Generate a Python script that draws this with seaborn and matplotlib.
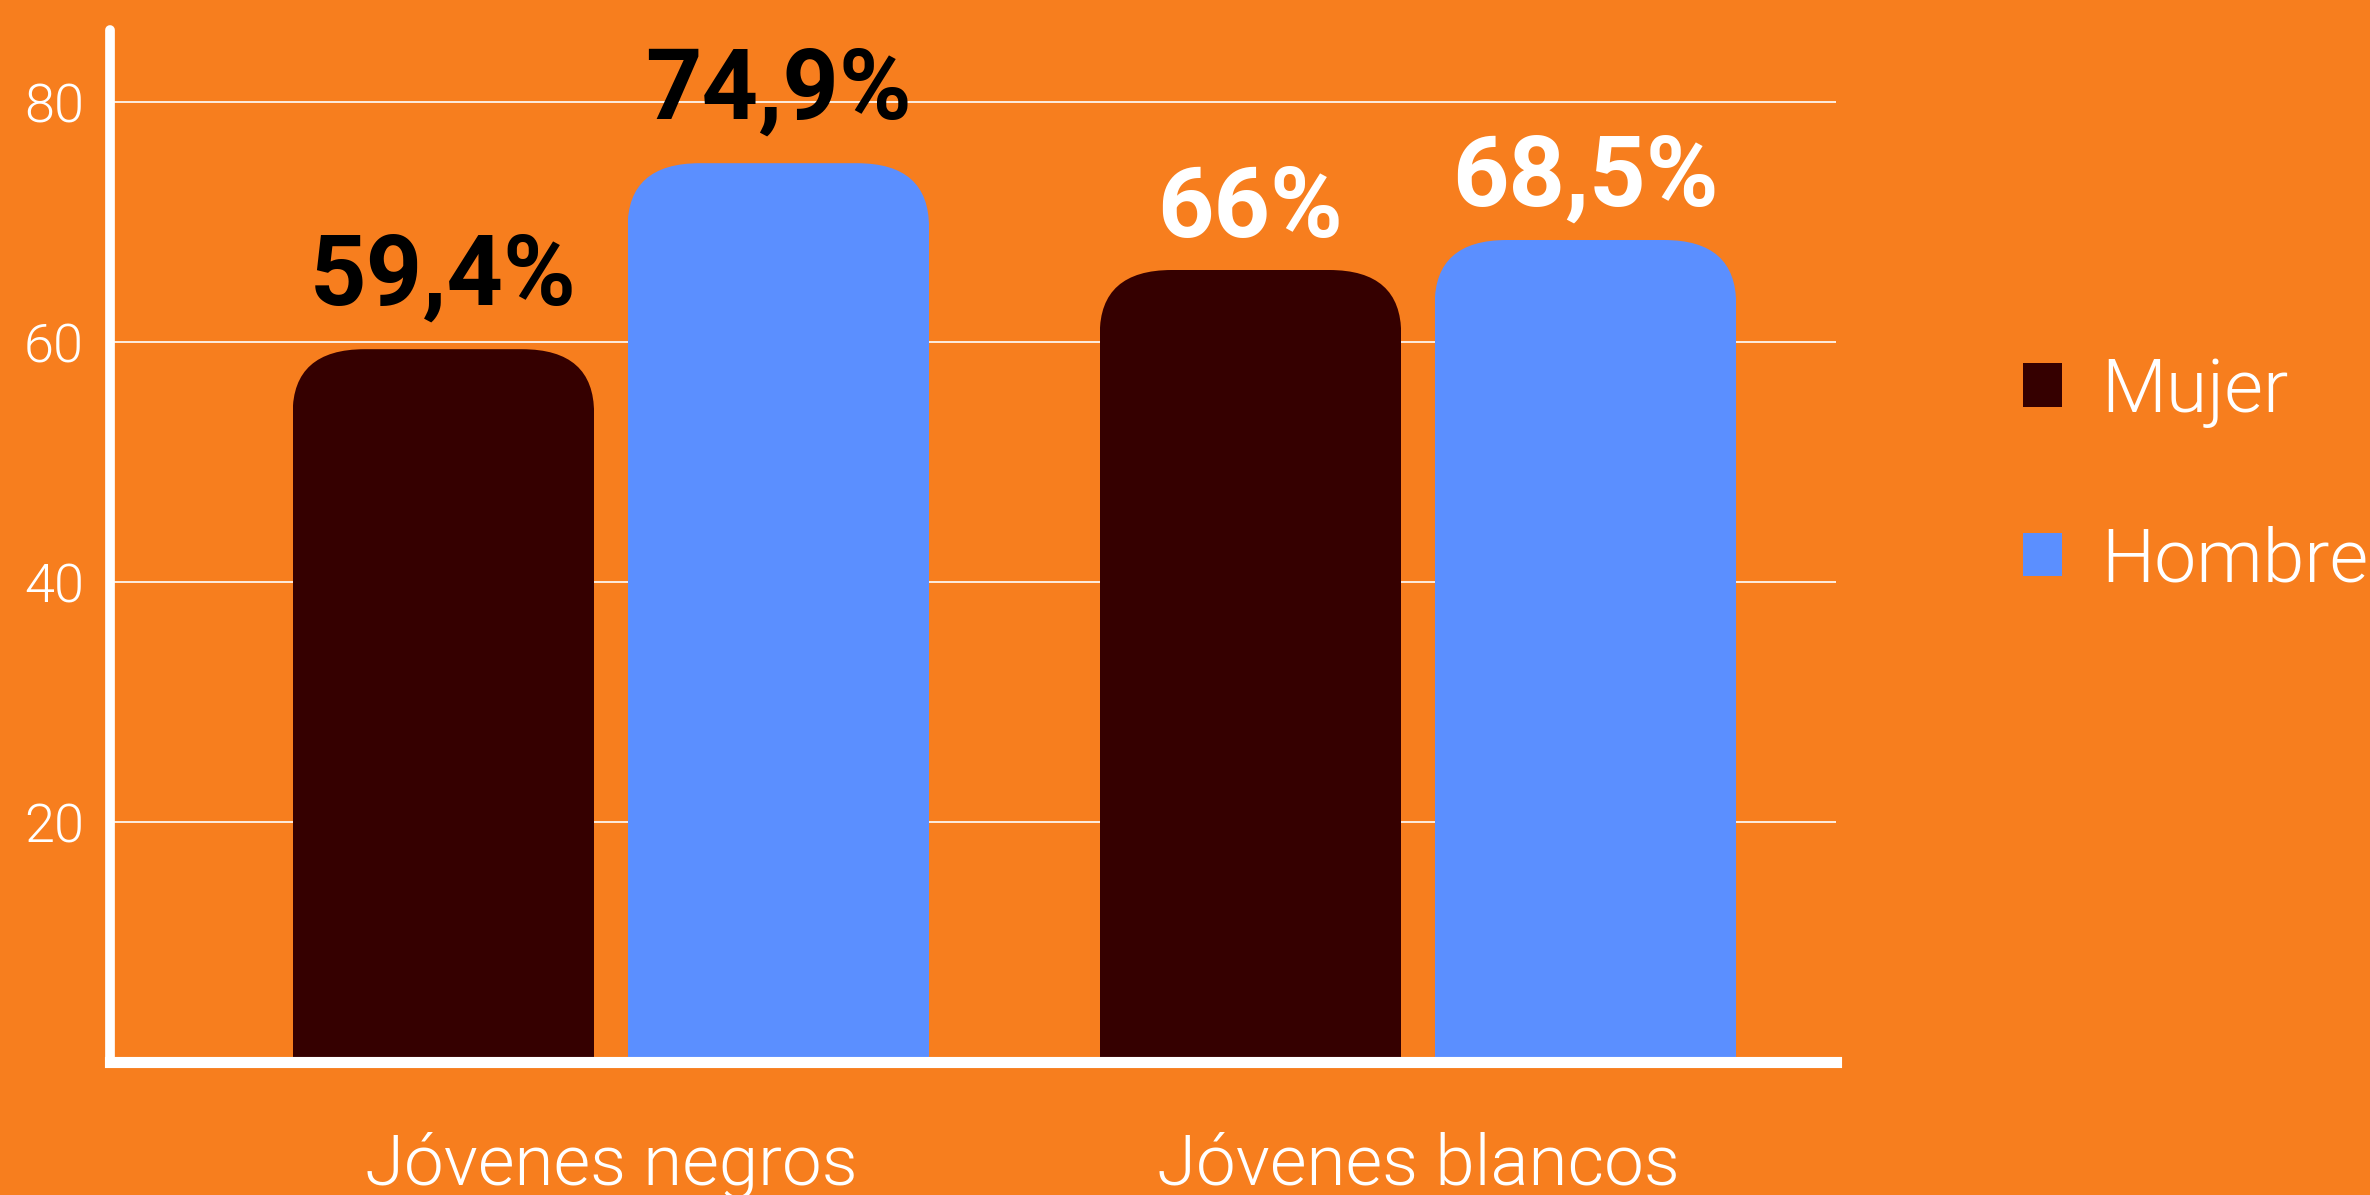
import pandas as pd
import matplotlib.pyplot as plt
import seaborn as sns
from matplotlib.patches import FancyBboxPatch
from matplotlib.font_manager import FontProperties, fontManager

grupos = ['Jóvenes negros', 'Jóvenes blancos']
sexos = ['Mujer', 'Hombre']
mujer = [59.4, 66.0]
hombre = [74.9, 68.5]
etiquetas = [['59,4%', '66%'], ['74,9%', '68,5%']]
color_etiquetas = [['black', 'white'], ['black', 'white']]
pad_etiquetas = [[32, 24], [32, 25]]  # points above bar top (baseline)

naranja = '#F77E1E'
colores = {'Mujer': '#350000', 'Hombre': '#5B8FFF'}

df = pd.DataFrame({
    'grupo': grupos * 2,
    'sexo': ['Mujer'] * 2 + ['Hombre'] * 2,
    'valor': mujer + hombre,
})

sns.set_style('white')
plt.rcParams['font.family'] = ['Roboto', 'DejaVu Sans']


def fuente(peso, size):
    # static Roboto .ttf with the closest weight, same file on every run
    cands = [f for f in fontManager.ttflist
             if f.name == 'Roboto' and f.style == 'normal'
             and '[' not in f.fname and f.fname.endswith('.ttf')]
    if cands:
        f = min(cands, key=lambda f: (abs(f.weight - peso), f.fname))
        return FontProperties(fname=f.fname, size=size)
    return FontProperties(family=['Roboto', 'DejaVu Sans'], weight=peso, size=size)


fig = plt.figure(figsize=(23.7, 11.95), dpi=100, facecolor=naranja)
ax = fig.add_axes([0.0466, 0.1113, 0.7281, 0.8636])
ax.set_facecolor(naranja)

sns.barplot(data=df, x='grupo', y='valor', hue='sexo', hue_order=sexos,
            order=grupos, palette=colores, width=0.83, gap=0.1,
            saturation=1, linewidth=0, errorbar=None, ax=ax, zorder=2)

ax.set_xlim(-0.62, 1.518)
ax.set_ylim(0, 86)
ax.set_yticks([20, 40, 60, 80])
ax.set_xlabel('')
ax.set_ylabel('')
ax.grid(axis='y', color='white', linewidth=1.2)
ax.set_axisbelow(True)

for s in ['top', 'right']:
    ax.spines[s].set_visible(False)
for s in ['left', 'bottom']:
    ax.spines[s].set_color('white')
ax.spines['left'].set_linewidth(7)
ax.spines['left'].set_capstyle('round')
ax.spines['bottom'].set_linewidth(8)
ax.spines['bottom'].set_capstyle('projecting')

ax.tick_params(axis='y', length=0, pad=19, labelcolor='white')
ax.tick_params(axis='x', length=0, pad=50, labelcolor='white')
for t in ax.get_yticklabels():
    t.set_fontproperties(fuente(300, 39))
for t in ax.get_xticklabels():
    t.set_fontproperties(fuente(300, 51))

# rounded tops: radius in pixels converted to data units
px_x = ax.transData.transform((1, 0))[0] - ax.transData.transform((0, 0))[0]
px_y = ax.transData.transform((0, 1))[1] - ax.transData.transform((0, 0))[1]
rx, ry = 72 / px_x, 64 / px_y

fp_valor = fuente(700, 71)
for i, cont in enumerate(ax.containers):
    for j, bar in enumerate(cont):
        x0, w, h = bar.get_x(), bar.get_width(), bar.get_height()
        clip = FancyBboxPatch((x0, -2 * ry), w, h + 2 * ry,
                              boxstyle=f'round,pad=0,rounding_size={rx}',
                              mutation_aspect=ry / rx, transform=ax.transData)
        bar.set_clip_path(clip)
        ax.annotate(etiquetas[i][j], (x0 + w / 2, h),
                    xytext=(0, pad_etiquetas[i][j]), textcoords='offset points',
                    ha='center', va='baseline', fontproperties=fp_valor,
                    color=color_etiquetas[i][j])

handles = ax.get_legend().legend_handles
for hd in handles:
    hd.set_linewidth(0)
ax.legend(handles, sexos, loc='center left', bbox_to_anchor=(0.8536, 0.6017),
          bbox_transform=fig.transFigure, frameon=False,
          labelcolor='white', handlelength=0.52, handleheight=0.52,
          handletextpad=0.52, labelspacing=1.3, borderpad=0, borderaxespad=0,
          prop=fuente(300, 54))

fig.savefig('out.png', dpi=100, facecolor=naranja)
